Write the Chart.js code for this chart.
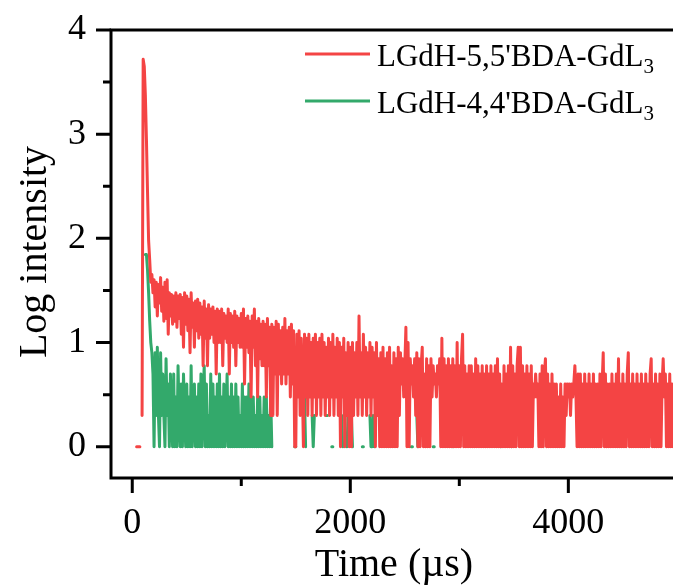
<!DOCTYPE html>
<html>
<head>
<meta charset="utf-8">
<title>Log intensity decay</title>
<script src="https://cdn.jsdelivr.net/npm/chart.js@4.4.1/dist/chart.umd.min.js"></script>
<style>
  html, body { margin: 0; padding: 0; background: #fff; }
  canvas { display: block; }
</style>
</head>
<body>
<canvas id="decayChart" width="673" height="586"></canvas>
<script>
// Photon counts per 10 µs channel; _ marks an empty channel (log undefined, left as a gap)
const _ = null;
const timeStep = 10;

const seriesNames = ["LGdH-5,5'BDA-GdL", "LGdH-4,4'BDA-GdL"];
const seriesSubs = ['3', '3'];
const seriesColors = ['#f44444', '#33a96b'];

const xMajorTicks = [0, 2000, 4000];
const xMinorTicks = [1000, 3000];
const yMajorTicks = [0, 1, 2, 3, 4];
const yMinorTicks = [0.5, 1.5, 2.5, 3.5];

const redCounts = [
  _, _, _, _, 1, 1, 1, 1, _, 2,
  5250, 4500, 2400, 900, 280, 95, 62, 38, 45, 30,
  40, 22, 38, 18, 36, 24, 42, 20, 34, 16,
  38, 17, 40, 12, 30, 18, 29, 15, 28, 16,
  30, 14, 28, 17, 29, 12, 27, 9, 30, 15,
  28, 13, 26, 8, 30, 14, 24, 9, 25, 13,
  26, 11, 24, 12, 22, 6, 25, 11, 21, 6,
  23, 11, 21, 12, 22, 10, 20, 5, 21, 10,
  20, 10, 21, 6, 19, 11, 18, 10, 21, 5,
  19, 10, 18, 9, 20, 6, 18, 10, 17, 9,
  19, 9, 21, 4, 17, 9, 18, 8, 16, 3,
  18, 9, 21, 6, 16, 3, 17, 7, 15, 6,
  16, 6, 15, 3, 17, 6, 14, 2, 15, 2,
  14, 5, 16, 2, 15, 5, 13, 4, 14, 5,
  17, 4, 13, 5, 14, 3, 15, 4, 13, 1,
  1, 12, 3, 13, 2, 11, 4, 1, 12, 3,
  11, 2, 12, 3, 10, 2, 11, 3, 12, 2,
  10, 3, 11, 2, 12, 3, 10, 2, 9, 3,
  11, 2, 10, 3, 12, 2, 9, 3, 11, 2,
  10, 1, 9, 3, 11, 1, 8, 2, 10, 1,
  9, 1, 10, 2, 8, 3, 10, 2, 18, 3,
  8, 2, 12, 3, 9, 2, 8, 3, 10, 2,
  9, 3, 8, 1, 10, 2, 7, 1, 8, 1,
  9, 1, 7, 1, 8, 1, 9, 1, 6, 1,
  8, 1, 7, 1, 9, 2, 8, 4, 7, 3,
  6, 14, 1, 10, 1, 7, 4, 6, 3, 7,
  2, 8, 1, 7, 1, 6, 9, 1, 5, 1,
  7, 1, 6, 1, 7, 3, 6, 4, 5, 3,
  6, 4, 7, 1, 11, 1, 7, 1, 6, 1,
  7, 1, 6, 1, 7, 1, 6, 1, 10, 1,
  6, 1, 7, 12, 1, 6, 1, 5, 1, 6,
  1, 6, 1, 5, 1, 7, 1, 6, 1, 5,
  1, 6, 1, 5, 1, 6, 1, 5, 1, 6,
  1, 5, 1, 6, 1, 7, 1, 5, 1, 4,
  1, 6, 1, 5, 1, 6, 1, 9, 1, 6,
  1, 5, 1, 6, 9, 1, 9, 1, 6, 1,
  5, 1, 6, 1, 5, 1, 6, 1, 4, 3,
  5, 3, 4, 1, 5, 1, 6, 1, 5, 7,
  1, 5, 1, 4, 1, 5, 1, 4, 1, 4,
  1, 3, 1, 4, 1, 3, 1, 4, 2, 4,
  3, 4, 2, 4, 3, 4, 6, 3, 1, 5,
  1, 5, 1, 4, 1, 5, 1, 4, 1, 5,
  1, 4, 1, 5, 1, 4, 1, 4, 1, 5,
  1, 4, 8, 1, 5, 1, 4, 1, 4, 1,
  5, 1, 4, 1, 5, 1, 7, 1, 4, 1,
  5, 1, 4, 1, 5, 8, 1, 4, 1, 5,
  1, 4, 1, 5, 1, 4, 1, 5, 1, 4,
  1, 5, 1, 4, 1, 5, 7, 1, 4, 1,
  5, 1, 4, 1, 5, 1, 4, 7, 3, 5,
  1, 4, 1, 5, 1, 4, 1
];

const greenCounts = [
  _, _, _, _, _, _, _, _, _, _,
  _, _, 70, 70, 50, 30, 16, 10, 8, 5,
  1, 8, 2, 9, 2, 1, 8, 2, 5, 2,
  1, 7, 2, 4, 1, 5, 2, 1, 5, 1,
  3, 1, 6, 2, 1, 4, 1, 5, 2, 1,
  4, 1, 3, 1, 6, 1, 2, 4, 1, 3,
  1, 4, 1, 5, 1, 3, 6, 1, 4, 1,
  2, 1, 5, 1, 4, 1, 3, 1, 4, 1,
  5, 1, 3, 1, 4, 1, 2, 5, 1, 3,
  1, 4, 1, 3, 1, 4, 1, 3, 1, 2,
  1, 4, 1, 3, 1, 3, 1, 4, 1, 3,
  1, 3, 1, 2, 1, 3, 1, 3, 1, 2,
  1, 3, 1, 3, 1, 2, 1, 3, 1, _,
  _, _, _, _, _, _, _, _, _, _,
  _, _, _, _, _, _, _, _, _, 1,
  1, _, _, _, _, _, _, _, 3, 1,
  _, _, _, _, _, 2, 1, 2, _, _,
  _, _, _, _, _, _, _, _, 2, 2,
  _, _, _, 1, 1, _, _, _, _, _,
  _, _, 2, 1, _, _, _, 1, 2, _,
  _, 2, 1, _, _, _, _, _, _, _,
  _, 1, 1, _, _, _, _, _, 2, 1,
  1, 2, 1, _, _, _, _, _, _, _,
  _, _, _, _, _, _, _, _, _, _,
  _, _, _, _, _, _, _, _, _, _,
  _, _, _, _, _, _, 1, 1, _, _,
  _, 2, 1, _, _, _, _, _, _, _,
  _, _, _, _, _, _, 1, 1, _, _,
  _, _, _, _, _, _, _, _, _, _,
  _, _, _, 3, 1, _, _, _, _, _,
  _, _, _, _, _, _, _, _, _, _,
  _, _, _, _, _, _, _, _, _, _,
  _, _, _, _, _, _, _, _, _, _,
  _, _, _, _, _, _, _, 2, 1, _,
  _, _, _, _, _, _, _, 2, 1, 2
];

// y axis is log10 of the counts
function toPoints(counts) {
  return counts.map((c, i) => ({ x: i * timeStep, y: c == null ? null : Math.log10(c) }));
}

const serif = '"Liberation Serif", "Times New Roman", serif';

// Axes frame, outward ticks, labels and legend are drawn by hand
const framePlugin = {
  id: 'frame',
  afterDraw(chart) {
    const { ctx, chartArea: a } = chart;
    const xs = chart.scales.x;
    const ys = chart.scales.y;
    ctx.save();
    ctx.strokeStyle = '#000';
    ctx.fillStyle = '#000';
    ctx.lineWidth = 3;
    ctx.lineCap = 'butt';

    ctx.beginPath();
    ctx.moveTo(a.right, a.top);
    ctx.lineTo(a.left, a.top);
    ctx.lineTo(a.left, a.bottom);
    ctx.lineTo(a.right, a.bottom);
    ctx.stroke();

    const major = 15, minor = 8;
    ctx.beginPath();
    yMajorTicks.forEach(v => {
      const py = ys.getPixelForValue(v);
      ctx.moveTo(a.left - major, py);
      ctx.lineTo(a.left, py);
    });
    yMinorTicks.forEach(v => {
      const py = ys.getPixelForValue(v);
      ctx.moveTo(a.left - minor, py);
      ctx.lineTo(a.left, py);
    });
    xMajorTicks.forEach(v => {
      const px = xs.getPixelForValue(v);
      ctx.moveTo(px, a.bottom);
      ctx.lineTo(px, a.bottom + major);
    });
    xMinorTicks.forEach(v => {
      const px = xs.getPixelForValue(v);
      ctx.moveTo(px, a.bottom);
      ctx.lineTo(px, a.bottom + minor);
    });
    ctx.stroke();

    ctx.font = '36px ' + serif;
    ctx.textAlign = 'right';
    ctx.textBaseline = 'middle';
    yMajorTicks.forEach(v => ctx.fillText(String(v), 86, ys.getPixelForValue(v)));
    ctx.textAlign = 'center';
    ctx.textBaseline = 'alphabetic';
    xMajorTicks.forEach(v => ctx.fillText(String(v), xs.getPixelForValue(v), 533));

    ctx.font = '40px ' + serif;
    ctx.fillText('Time (\u00b5s)', 394, 576);
    ctx.save();
    ctx.translate(46, 252);
    ctx.rotate(-Math.PI / 2);
    ctx.fillText('Log intensity', 0, 0);
    ctx.restore();

    // legend
    const rows = [54, 101];
    seriesNames.forEach((name, i) => {
      ctx.strokeStyle = seriesColors[i];
      ctx.lineWidth = 3;
      ctx.beginPath();
      ctx.moveTo(305, rows[i]);
      ctx.lineTo(370, rows[i]);
      ctx.stroke();
      ctx.textAlign = 'left';
      ctx.font = '31px ' + serif;
      ctx.fillText(name, 377, rows[i] + 12);
      const w = ctx.measureText(name).width;
      ctx.font = '21px ' + serif;
      ctx.fillText(seriesSubs[i], 377 + w, rows[i] + 19);
    });
    ctx.restore();
  }
};

const ctx = document.getElementById('decayChart').getContext('2d');
new Chart(ctx, {
  type: 'line',
  data: {
    datasets: [
      {
        label: seriesNames[0] + seriesSubs[0],
        data: toPoints(redCounts),
        borderColor: seriesColors[0],
        borderWidth: 3,
        borderJoinStyle: 'round',
        borderCapStyle: 'round',
        pointRadius: 0,
        spanGaps: false,
        order: 0,
      },
      {
        label: seriesNames[1] + seriesSubs[1],
        data: toPoints(greenCounts),
        borderColor: seriesColors[1],
        borderWidth: 3,
        borderJoinStyle: 'round',
        borderCapStyle: 'round',
        pointRadius: 0,
        spanGaps: false,
        order: 1,
      },
    ],
  },
  options: {
    responsive: false,
    animation: false,
    devicePixelRatio: 1,
    layout: { padding: { left: 111, top: 30, right: 0, bottom: 108 } },
    plugins: {
      legend: { display: false },
      tooltip: { enabled: false },
    },
    scales: {
      x: { type: 'linear', min: -195, max: 4960, display: false },
      y: { type: 'linear', min: -0.3, max: 4, display: false },
    },
  },
  plugins: [framePlugin],
});
</script>
</body>
</html>
